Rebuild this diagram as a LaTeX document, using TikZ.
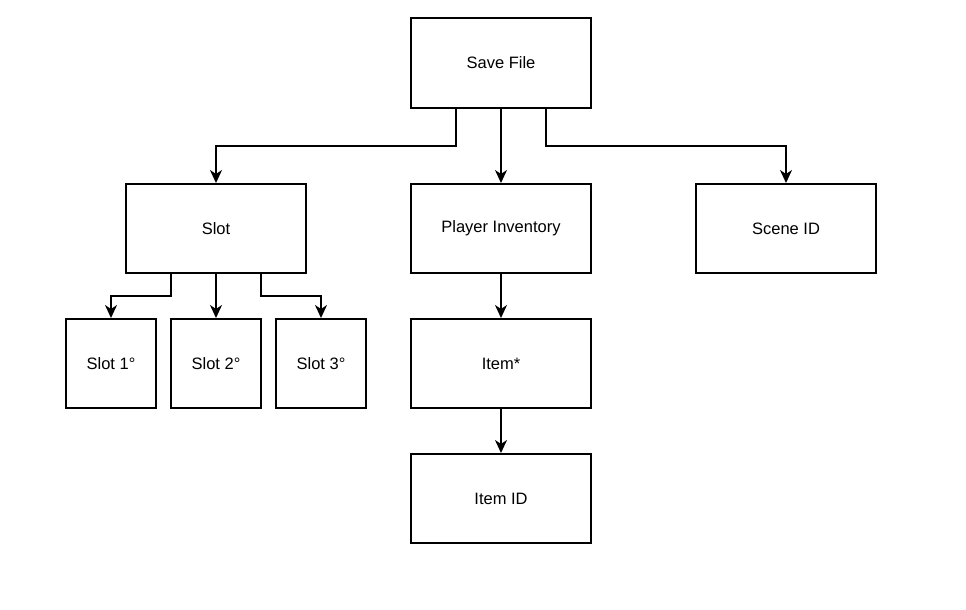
\documentclass[tikz,border=0pt]{standalone}
\usepackage{fontspec}
\setmainfont{Liberation Sans}
\usetikzlibrary{arrows.meta}
\begin{document}
\begin{tikzpicture}[x=1pt,y=-1pt,
  box/.style={draw=black,line width=2pt,rectangle,minimum width=180pt,minimum height=89pt,inner sep=0pt,font=\fontsize{16.5}{19}\selectfont},
  smallbox/.style={box,minimum width=90pt},
  arr/.style={draw=black,line width=2pt,-{Stealth[length=13pt,width=12pt,inset=4pt]}}]
\useasboundingbox (0,0) rectangle (966,610);
\node[box] (save) at (501,63) {Save File};
\node[box] (slot) at (216,228.5) {Slot};
\node[box] (inv) at (501,228.5) {Player Inventory};
\node[box] (scene) at (786,228.5) {Scene ID};
\node[smallbox] (s1) at (111,363.5) {Slot 1°};
\node[smallbox] (s2) at (216,363.5) {Slot 2°};
\node[smallbox] (s3) at (321,363.5) {Slot 3°};
\node[box] (item) at (501,363.5) {Item*};
\node[box] (itemid) at (501,498.5) {Item ID};
\draw[arr] ([xshift=-45]save.south) -- ++(0,37) -| (slot.north);
\draw[arr] (save.south) -- (inv.north);
\draw[arr] ([xshift=45]save.south) -- ++(0,37) -| (scene.north);
\draw[arr] ([xshift=-45]slot.south) -- ++(0,22) -| (s1.north);
\draw[arr] (slot.south) -- (s2.north);
\draw[arr] ([xshift=45]slot.south) -- ++(0,22) -| (s3.north);
\draw[arr] (inv.south) -- (item.north);
\draw[arr] (item.south) -- (itemid.north);
\end{tikzpicture}
\end{document}
